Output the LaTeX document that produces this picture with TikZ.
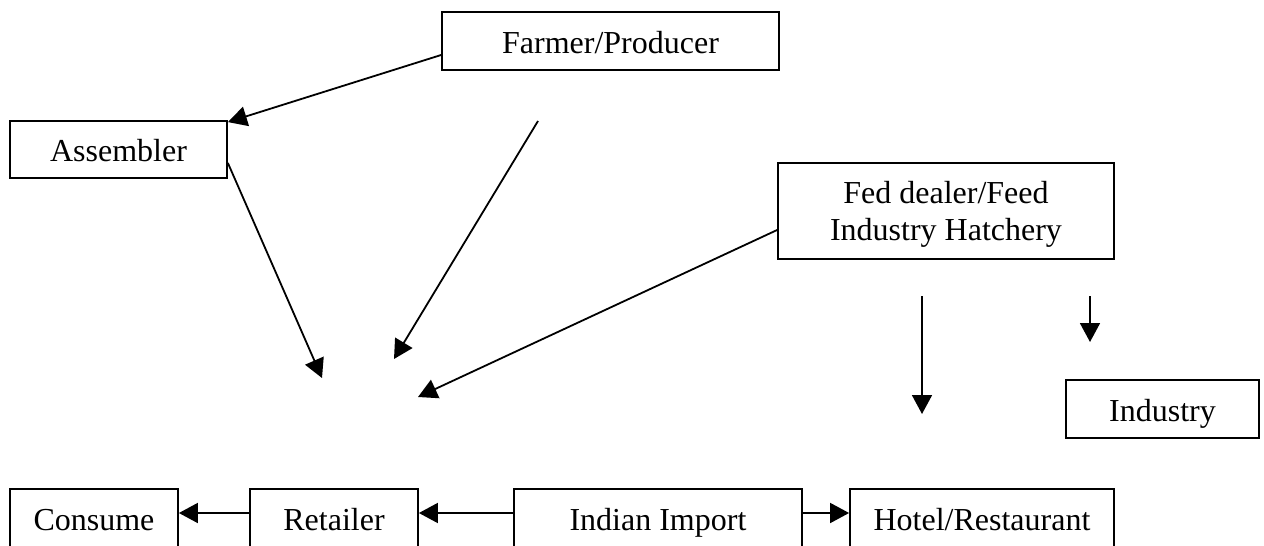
\documentclass[tikz,border=0pt]{standalone}
\usepackage{fontspec}
\setmainfont{Liberation Serif}
\usetikzlibrary{arrows.meta}
\begin{document}
\begin{tikzpicture}[x=1pt,y=-1pt,
  box/.style={draw, line width=1.8pt, inner sep=0pt, font=\fontsize{32}{38}\selectfont, text height=28pt, text depth=4pt},
  lbl/.style={inner sep=0pt, anchor=base, font=\fontsize{32}{38}\selectfont},
  arr/.style={line width=1.8pt, -{Triangle[length=19pt,width=20pt]}}]
\useasboundingbox (0,0) rectangle (1264,546);
\clip (0,0) rectangle (1264,546);
% boxes
\node[box, minimum width=337pt, minimum height=58pt] (farmer) at (610.5,41) {Farmer/Producer};
\node[box, minimum width=217pt, minimum height=57pt] (assembler) at (118.5,149.5) {Assembler};
\node[draw, line width=1.8pt, inner sep=0pt, minimum width=336pt, minimum height=96pt] (fed) at (946,211) {};
\node[lbl] (fedA) at (946,203) {Fed dealer/Feed};
\node[lbl] (fedB) at (946,240) {Industry Hatchery};
\node[box, minimum width=193pt, minimum height=58pt] (industry) at (1162.5,409) {Industry};
\node[box, minimum width=168pt, minimum height=58pt] (consume) at (94,518) {Consume};
\node[box, minimum width=168pt, minimum height=58pt] (retailer) at (334,518) {Retailer};
\node[box, minimum width=288pt, minimum height=58pt] (indian) at (658,518) {Indian Import};
\node[box, minimum width=264pt, minimum height=58pt] (hotel) at (982,518) {Hotel/Restaurant};
% free ends
\coordinate (a1) at (322,378);
\coordinate (f1) at (538,121);
\coordinate (f2) at (394,359);
\coordinate (d1) at (418,397);
\coordinate (h1) at (922,296);
\coordinate (h2) at (922,414);
\coordinate (i1) at (1090,296);
\coordinate (i2) at (1090,342);
% connectors
\draw[arr] ([yshift=-14pt]farmer.west) -- ([yshift=-2pt]assembler.north east);
\draw[arr] ([yshift=-13.5pt]assembler.east) -- (a1);
\draw[arr] (f1) -- (f2);
\draw[arr] ([yshift=-19pt]fed.west) -- (d1);
\draw[arr] (h1) -- (h2);
\draw[arr] (i1) -- (i2);
\draw[arr] ([yshift=5pt]retailer.west) -- ([yshift=5pt]consume.east);
\draw[arr] ([yshift=5pt]indian.west) -- ([yshift=5pt]retailer.east);
\draw[arr] ([yshift=5pt]indian.east) -- ([yshift=5pt]hotel.west);
\end{tikzpicture}
\end{document}
